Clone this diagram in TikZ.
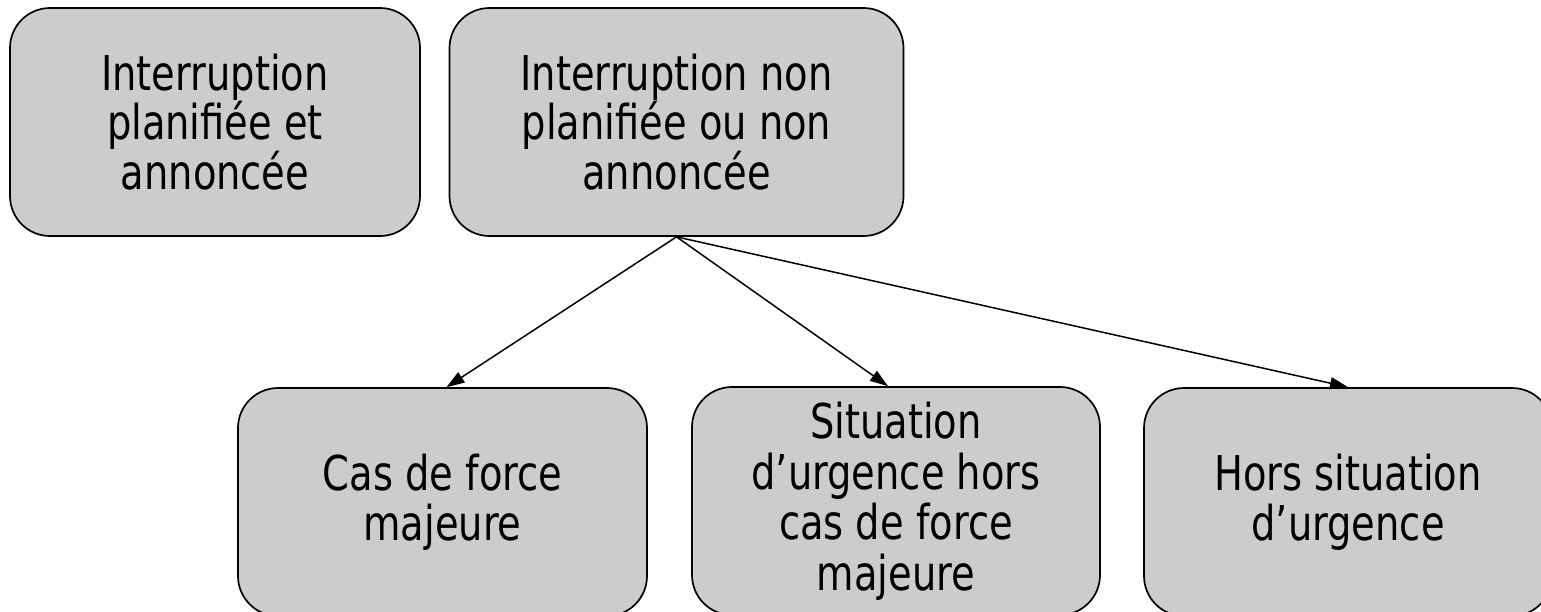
\documentclass[tikz,border=0pt]{standalone}
\usepackage{fontspec}
\setmainfont{DejaVu Sans}[FakeStretch=0.8]
\usetikzlibrary{arrows.meta}
\definecolor{boxgray}{RGB}{204,204,204}
\begin{document}
\begin{tikzpicture}[x=1pt,y=-1pt,
  box/.style={draw=black, line width=1.7pt, fill=boxgray, rounded corners=40pt,
    align=center, inner sep=0pt, minimum height=228pt},
  toptext/.style={font=\fontsize{48}{44.5}\selectfont},
  bottext/.style={font=\fontsize{48}{50.5}\selectfont},
  link/.style={line width=1.5pt, -{Triangle[length=18pt,width=12pt]}}
]
\useasboundingbox (0,0) rectangle (1541,611);
\clip (0,0) rectangle (1541,611);
\node[box, toptext, minimum width=410pt] (b1) at (215,122) {Interruption\\planifiée et\\annoncée};
\node[box, toptext, minimum width=454pt] (b2) at (676.5,122) {Interruption non\\planifiée ou non\\annoncée};
\node[box, bottext, minimum width=409pt] (b3) at (442.5,502) {Cas de force\\majeure};
\node[box, bottext, minimum width=408pt] (b4) at (896,501) {Situation\\d’urgence hors\\cas de force\\majeure};
\node[box, bottext, minimum width=408pt] (b5) at (1348,502) {Hors situation\\d’urgence};
\draw[link] (b2.south) -- ([xshift=4pt]b3.north);
\draw[link] (b2.south) -- ([xshift=-8pt]b4.north);
\draw[link] (b2.south) -- (b5.north);
\end{tikzpicture}
\end{document}
